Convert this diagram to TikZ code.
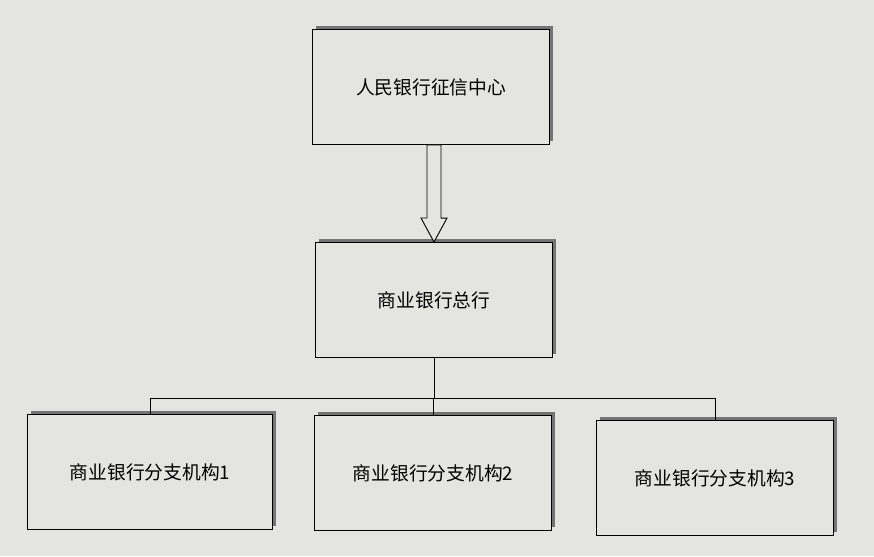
\documentclass[tikz,border=0pt]{standalone}
\usepackage{fontspec}
\setmainfont{Noto Sans CJK SC}
\usetikzlibrary{shadows,calc}
\definecolor{paper}{HTML}{E4E4E1}
\tikzset{
  unitbox/.style={draw=black, thick, fill=paper, minimum width=7.1cm, minimum height=3.45cm,
    font=\fontsize{16}{19}\selectfont, drop shadow={shadow xshift=3pt, shadow yshift=3pt, fill=black!65, opacity=0.8}},
  link/.style={draw=black, thick}
}
\begin{document}
\begin{tikzpicture}[x=0.03cm, y=-0.03cm]
  \fill[paper] (0,0) rectangle (874,556);
  \useasboundingbox (0,0) rectangle (874,556);

  \node[unitbox] (pbc) at (431,87) {人民银行征信中心};
  \node[unitbox] (hq) at (434,300) {商业银行总行};
  \node[unitbox, minimum width=7.35cm] (br1) at (150,472) {商业银行分支机构1};
  \node[unitbox] (br2) at (433,473) {商业银行分支机构2};
  \node[unitbox] (br3) at (715,478) {商业银行分支机构3};

  % hollow arrow
  \coordinate (tail) at (hq.north |- pbc.south);
  \draw[thick, fill=paper] ($(tail)+(-7,0)$) -- ++(0,73) -- ++(-6,0)
    -- (hq.north) -- ++(13,-24) -- ++(-6,0) -- ($(tail)+(7,0)$) -- cycle;

  \coordinate (bus) at (434,398);
  \draw[link] (hq.south) -- (bus);
  \draw[link] (br1.north |- bus) -- (br3.north |- bus);
  \draw[link] (br1.north |- bus) -- (br1.north);
  \draw[link] (br2.north |- bus) -- (br2.north);
  \draw[link] (br3.north |- bus) -- (br3.north);
\end{tikzpicture}
\end{document}
